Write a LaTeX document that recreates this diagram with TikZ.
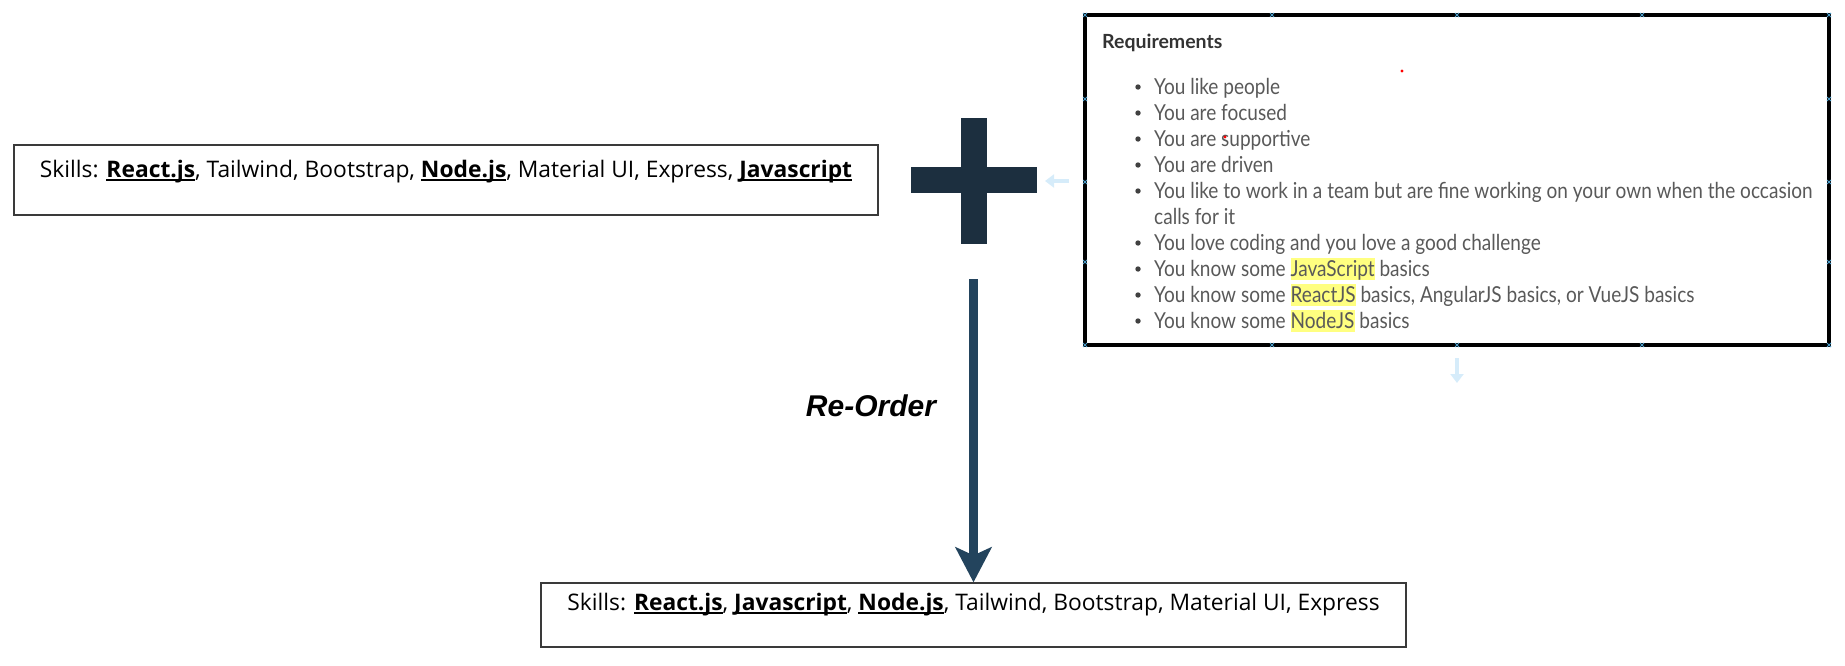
\documentclass[tikz,border=0pt]{standalone}
\usepackage{fontspec}
\usetikzlibrary{arrows.meta}
\newfontfamily\skillfont{Open Sans}
\newfontfamily\reqfont[FakeStretch=0.865]{Lato}
\newfontfamily\reqheadfont{Lato}
\newfontfamily\labelfont{Liberation Sans}
\definecolor{plusc}{HTML}{1C2F3F}
\definecolor{arrc}{HTML}{23445D}
\definecolor{reqgray}{HTML}{595959}
\definecolor{reqheadc}{HTML}{333333}
\definecolor{hly}{HTML}{FFFF80}
\definecolor{faint}{HTML}{D6ECFA}
\definecolor{handlec}{HTML}{4A9BC7}
\definecolor{boxc}{HTML}{3A3A3A}
\newcommand{\hlw}[1]{{\setlength{\fboxsep}{0pt}\colorbox{hly}{\rule[-4pt]{0pt}{22pt}#1}}}
\newcommand{\skw}[1]{{\setbox0\hbox{\textbf{#1}}\rlap{\rule[-3.5pt]{\wd0}{1.8pt}}\box0}}
\begin{document}
\begin{tikzpicture}[x=1pt,y=-1pt,
  skillbox/.style={draw=boxc, line width=1.3pt, inner sep=0pt},
  skilltext/.style={anchor=base, inner sep=0pt, font=\skillfont\fontsize{22.8}{27}\selectfont},
  plusbar/.style={fill=plusc, inner sep=0pt},
  reqline/.style={anchor=base west, inner sep=0pt, text=reqgray, font=\reqfont\fontsize{22}{26}\selectfont},
  faintarrow/.style={draw=faint, line width=3.5pt, -{Triangle[length=9pt,width=13pt]}},
  handle/.style={draw=handlec, line width=0.8pt}]
\useasboundingbox (0,0) rectangle (1845,665);

% left skills box
\node[skillbox, minimum width=864, minimum height=70] (leftbox) at (446,180) {};
\node[skilltext] (lefttext) at (446,177.5) {Skills: \skw{React.js}, Tailwind, Bootstrap, \skw{Node.js}, Material UI, Express, \skw{Javascript}};

% plus sign
\node[plusbar, minimum width=26, minimum height=126] (plusv) at (974,181) {};
\node[plusbar, minimum width=126, minimum height=26] (plush) at (974,180) {};

% bottom skills box
\node[skillbox, minimum width=865, minimum height=64] (botbox) at (973.5,615) {};
\node[skilltext] (bottext) at (973.5,610) {Skills: \skw{React.js}, \skw{Javascript}, \skw{Node.js}, Tailwind, Bootstrap, Material UI, Express};

% arrow
\coordinate (arrtop) at (973.5,279);
\draw[arrc, line width=8.5pt, -{Stealth[length=35pt,width=36pt,inset=8pt]}] (arrtop) -- (botbox.north);
\node[inner sep=0pt, font=\labelfont\bfseries\itshape\fontsize{30}{36}\selectfont] (reorder) at (871,406) {Re-Order};

% requirements box
\node[draw=black, line width=4.5pt, minimum width=744, minimum height=330, inner sep=0pt] (reqbox) at (1457,180) {};
\node[anchor=base west, inner sep=0pt, text=reqheadc, font=\reqheadfont\bfseries\fontsize{19.5}{23}\selectfont] (reqhead) at (1102,48) {Requirements};
\node[reqline] (r1) at (1154,94) {You like people};
\node[reqline] (r2) at (1154,120) {You are focused};
\node[reqline] (r3) at (1154,146) {You are supportive};
\node[reqline] (r4) at (1154,172) {You are driven};
\node[reqline] (r5) at (1154,198) {You like to work in a team but are fine working on your own when the occasion};
\node[reqline] (r6) at (1154,224) {calls for it};
\node[reqline] (r7) at (1154,250) {You love coding and you love a good challenge};
\node[reqline] (r8) at (1154,276) {You know some \hlw{JavaScript} basics};
\node[reqline] (r9) at (1154,302) {You know some \hlw{ReactJS} basics, AngularJS basics, or VueJS basics};
\node[reqline] (r10) at (1154,328) {You know some \hlw{NodeJS} basics};
\foreach \b in {94,120,146,172,198,250,276,302,328}
  \fill[black!75] (1138,\b-7) circle (2.7);

% selection handles
\foreach \hx in {1085,1272,1457,1642,1829} {
  \draw[handle] (\hx-2,13) -- (\hx+2,17) (\hx-2,17) -- (\hx+2,13);
  \draw[handle] (\hx-2,343) -- (\hx+2,347) (\hx-2,347) -- (\hx+2,343);
}
\foreach \hy in {99,182,262} {
  \draw[handle] (1083,\hy-2) -- (1087,\hy+2) (1083,\hy+2) -- (1087,\hy-2);
  \draw[handle] (1827,\hy-2) -- (1831,\hy+2) (1827,\hy+2) -- (1831,\hy-2);
}
% red dots
\fill[red] (1402,71) circle (1.6);
\fill[red] (1225,137) circle (1.6);

% faint hover arrows
\coordinate (fa1s) at (1069,181);
\coordinate (fa1e) at (1045,181);
\draw[faintarrow] (fa1s) -- (fa1e);
\coordinate (fa2s) at (1457,358);
\coordinate (fa2e) at (1457,383);
\draw[faintarrow] (fa2s) -- (fa2e);
\end{tikzpicture}
\end{document}
